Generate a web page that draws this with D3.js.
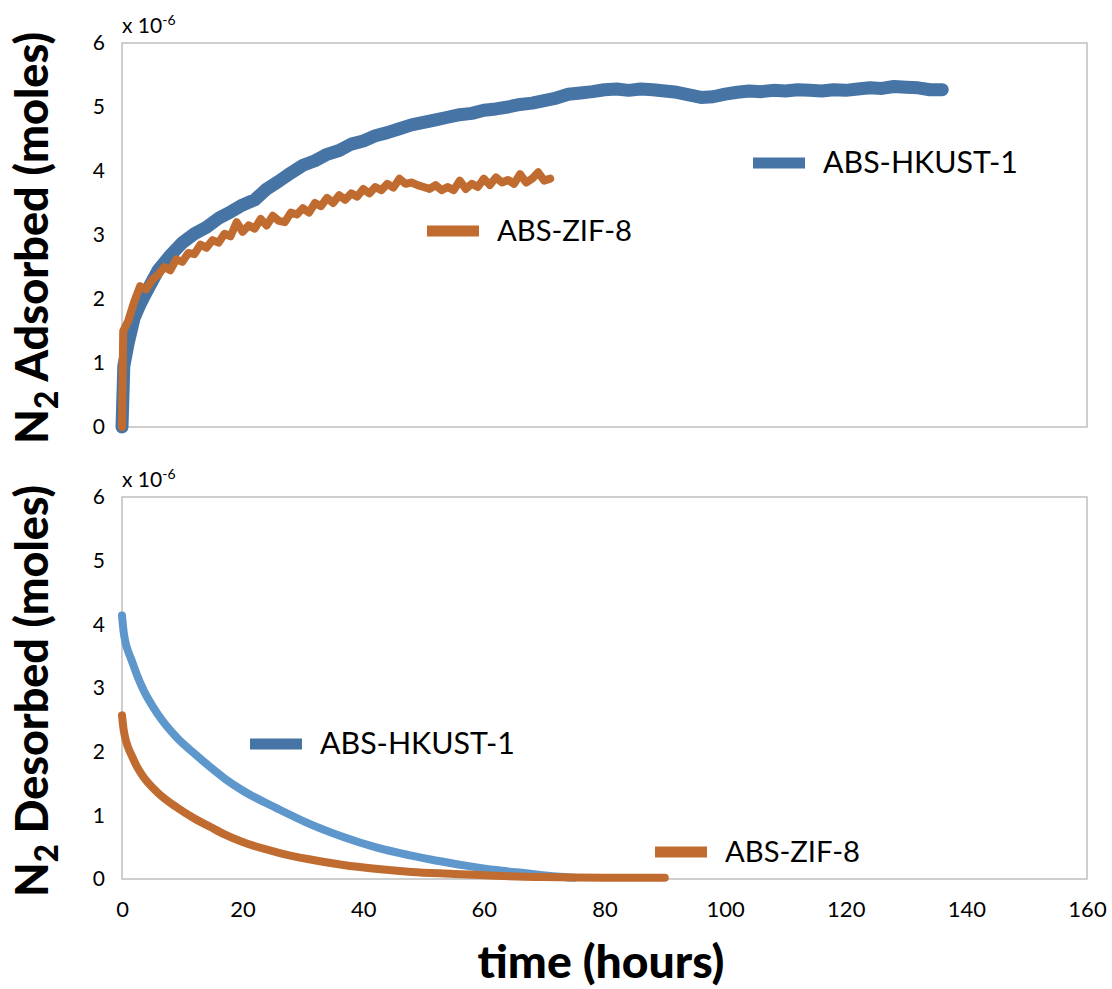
<!DOCTYPE html>
<html>
<head>
<meta charset="utf-8">
<script src="https://cdn.jsdelivr.net/npm/d3@7.9.0/dist/d3.min.js"></script>
<style>
  body { margin: 0; background: #fff; }
  svg { display: block; font-family: Lato, 'Open Sans', sans-serif; }
</style>
</head>
<body>
<svg id="chart" width="1112" height="989"></svg>
<script>
// adsorption (top panel), time in hours, value in 1e-6 moles
const hkustAdsTime = [0, 0.3, 1, 2, 3, 4, 6, 8, 10, 12, 14, 16, 18, 20, 22, 24, 26, 28, 30, 32, 34, 36, 38, 40,
  42, 44, 46, 48, 50, 52, 54, 56, 58, 60, 62, 64, 66, 68, 70, 72, 74, 76, 78, 80, 82, 84, 86, 88, 90, 92, 94,
  96, 98, 100, 102, 104, 106, 108, 110, 112, 114, 116, 118, 120, 122, 124, 126, 128, 130, 132, 134, 136];
const hkustAdsValue = [0, 0.95, 1.3, 1.7, 1.92, 2.1, 2.45, 2.68, 2.88, 3.02, 3.12, 3.26, 3.36, 3.47, 3.55, 3.72,
  3.84, 3.97, 4.09, 4.16, 4.26, 4.32, 4.42, 4.47, 4.55, 4.6, 4.66, 4.72, 4.76, 4.8, 4.84, 4.88, 4.9, 4.95, 4.97,
  5.0, 5.04, 5.06, 5.1, 5.14, 5.2, 5.22, 5.24, 5.27, 5.28, 5.26, 5.28, 5.27, 5.25, 5.23, 5.19, 5.15, 5.16, 5.2,
  5.23, 5.25, 5.24, 5.26, 5.25, 5.27, 5.26, 5.25, 5.27, 5.26, 5.28, 5.3, 5.29, 5.32, 5.31, 5.3, 5.27, 5.27];

const zifAdsTime = [0, 0.2, 1, 2, 3, 4, 5, 6, 7, 8, 9, 10, 11, 12, 13, 14, 15, 16, 17, 18, 19, 20, 21, 22, 23, 24,
  25, 26, 27, 28, 29, 30, 31, 32, 33, 34, 35, 36, 37, 38, 39, 40, 41, 42, 43, 44, 45, 46, 47, 48, 49, 50, 51, 52,
  53, 54, 55, 56, 57, 58, 59, 60, 61, 62, 63, 64, 65, 66, 67, 68, 69, 70, 71];
const zifAdsValue = [0, 1.5, 1.65, 1.95, 2.2, 2.15, 2.3, 2.38, 2.5, 2.45, 2.62, 2.58, 2.72, 2.7, 2.85, 2.8, 2.92,
  2.88, 3.02, 2.98, 3.2, 3.05, 3.15, 3.1, 3.25, 3.15, 3.3, 3.22, 3.2, 3.35, 3.32, 3.42, 3.35, 3.5, 3.45, 3.58,
  3.5, 3.62, 3.55, 3.65, 3.6, 3.72, 3.65, 3.75, 3.7, 3.8, 3.74, 3.88, 3.8, 3.82, 3.78, 3.75, 3.72, 3.78, 3.7,
  3.75, 3.7, 3.85, 3.72, 3.8, 3.75, 3.88, 3.78, 3.9, 3.82, 3.86, 3.8, 3.95, 3.82, 3.88, 3.98, 3.85, 3.88];

// desorption (bottom panel)
const hkustDesTime = [0, 0.25, 0.5, 1, 1.5, 2.5, 3.5, 6, 9, 12, 14.6, 17, 20, 25.7, 31, 36.7, 42, 47.8, 52, 57,
  62, 67, 72, 75];
const hkustDesValue = [4.14, 3.9, 3.75, 3.58, 3.46, 3.2, 2.98, 2.58, 2.23, 1.97, 1.76, 1.58, 1.39, 1.11, 0.87,
  0.66, 0.5, 0.37, 0.29, 0.21, 0.14, 0.09, 0.04, 0.02];

const zifDesTime = [0, 0.25, 0.5, 1, 1.5, 2.5, 3.5, 6, 9, 12, 14.6, 17, 20, 25.7, 31, 36.7, 42, 48, 55, 62, 70,
  80, 90];
const zifDesValue = [2.57, 2.36, 2.23, 2.07, 1.96, 1.76, 1.61, 1.35, 1.13, 0.95, 0.82, 0.7, 0.58, 0.42, 0.31, 0.22,
  0.16, 0.11, 0.08, 0.05, 0.03, 0.02, 0.02];

const xTicks = [0, 20, 40, 60, 80, 100, 120, 140, 160];
const yTicks = [0, 1, 2, 3, 4, 5, 6];
const seriesNames = ['ABS-HKUST-1', 'ABS-ZIF-8'];

const BLUE = '#4674a5';
const BLUE_LIGHT = '#5e97cb';
const ORANGE = '#c06c30';

const svg = d3.select('#chart');

const left = 122;
const right = 1087;
const x = d3.scaleLinear().domain([0, 160]).range([left, right]);

// scale a text's font so that its width matches the reference
function fitWidth(sel, target) {
  const fs = +sel.attr('font-size');
  const len = sel.node().getComputedTextLength();
  sel.attr('font-size', fs * target / len);
  return fs * target / len;
}

const panels = [
  {
    top: 43, bottom: 427, title: 'Adsorbed',
    series: [
      { t: hkustAdsTime, v: hkustAdsValue, color: BLUE, width: 13, curve: d3.curveLinear },
      { t: zifAdsTime, v: zifAdsValue, color: ORANGE, width: 8, curve: d3.curveLinear },
    ],
    legend: [
      { name: seriesNames[0], color: BLUE, x: 753, y: 163 },
      { name: seriesNames[1], color: ORANGE, x: 427, y: 231 },
    ],
  },
  {
    top: 497, bottom: 879, title: 'Desorbed',
    series: [
      { t: hkustDesTime, v: hkustDesValue, color: BLUE_LIGHT, width: 8, curve: d3.curveMonotoneX },
      { t: zifDesTime, v: zifDesValue, color: ORANGE, width: 8, curve: d3.curveMonotoneX },
    ],
    legend: [
      { name: seriesNames[0], color: BLUE, x: 250, y: 744 },
      { name: seriesNames[1], color: ORANGE, x: 655, y: 852 },
    ],
  },
];

const legendWidths = { 'ABS-HKUST-1': 195, 'ABS-ZIF-8': 135 };

panels.forEach((panel) => {
  const y = d3.scaleLinear().domain([0, 6]).range([panel.bottom, panel.top]);
  const g = svg.append('g');

  g.append('rect')
    .attr('x', left)
    .attr('y', panel.top)
    .attr('width', right - left)
    .attr('height', panel.bottom - panel.top)
    .attr('fill', 'none')
    .attr('stroke', '#bfbfbf')
    .attr('stroke-width', 1.5);

  const yAxis = g.append('g')
    .attr('transform', `translate(${left},0)`)
    .call(d3.axisLeft(y).tickValues(yTicks).tickFormat(d3.format('d')).tickSize(0).tickPadding(17));
  yAxis.select('.domain').remove();
  yAxis.selectAll('text')
    .attr('font-family', 'Lato, sans-serif')
    .attr('font-size', 21)
    .attr('fill', '#000');

  const mult = g.append('text')
    .attr('x', left)
    .attr('y', panel.top - 10)
    .attr('font-size', 21)
    .attr('fill', '#000');
  mult.append('tspan').text('x 10');
  mult.append('tspan').attr('dy', -8).attr('font-size', 14).text('-6');

  const line = (s) => d3.line()
    .x((d) => x(d[0]))
    .y((d) => y(d[1]))
    .curve(s.curve)(d3.zip(s.t, s.v));

  panel.series.forEach((s) => {
    g.append('path')
      .attr('d', line(s))
      .attr('fill', 'none')
      .attr('stroke', s.color)
      .attr('stroke-width', s.width)
      .attr('stroke-linejoin', 'round')
      .attr('stroke-linecap', 'round');
  });

  panel.legend.forEach((item) => {
    g.append('rect')
      .attr('x', item.x)
      .attr('y', item.y - 5.5)
      .attr('width', 52)
      .attr('height', 11)
      .attr('fill', item.color);
    const label = g.append('text')
      .attr('x', item.x + 70)
      .attr('y', item.y + 10)
      .attr('font-size', 28)
      .attr('fill', '#000')
      .text(item.name);
    fitWidth(label, legendWidths[item.name]);
  });

  // rotated axis title, fitted to the panel height
  const cy = (panel.top + panel.bottom) / 2 + 3;
  const title = g.append('text')
    .attr('transform', `translate(48,${cy}) rotate(-90)`)
    .attr('text-anchor', 'middle')
    .attr('font-weight', 900)
    .attr('font-size', 40)
    .attr('fill', '#000');
  title.append('tspan').text('N');
  title.append('tspan').attr('dy', 10).attr('font-size', 28).text('2');
  title.append('tspan').attr('dy', -10).text(` ${panel.title} (moles)`);
  const fs = fitWidth(title, 412);
  title.select('tspan:nth-child(2)').attr('font-size', fs * 0.7);
});

const xAxis = svg.append('g')
  .attr('transform', `translate(0,${panels[1].bottom})`)
  .call(d3.axisBottom(x).tickValues(xTicks).tickSize(0).tickPadding(22));
xAxis.select('.domain').remove();
xAxis.selectAll('text')
  .attr('font-family', 'Lato, sans-serif')
  .attr('font-size', 22)
  .attr('fill', '#000');

const xTitle = svg.append('text')
  .attr('x', 601)
  .attr('y', 978)
  .attr('text-anchor', 'middle')
  .attr('font-weight', 900)
  .attr('font-size', 40)
  .attr('fill', '#000')
  .text('time (hours)');
fitWidth(xTitle, 247);
</script>
</body>
</html>
